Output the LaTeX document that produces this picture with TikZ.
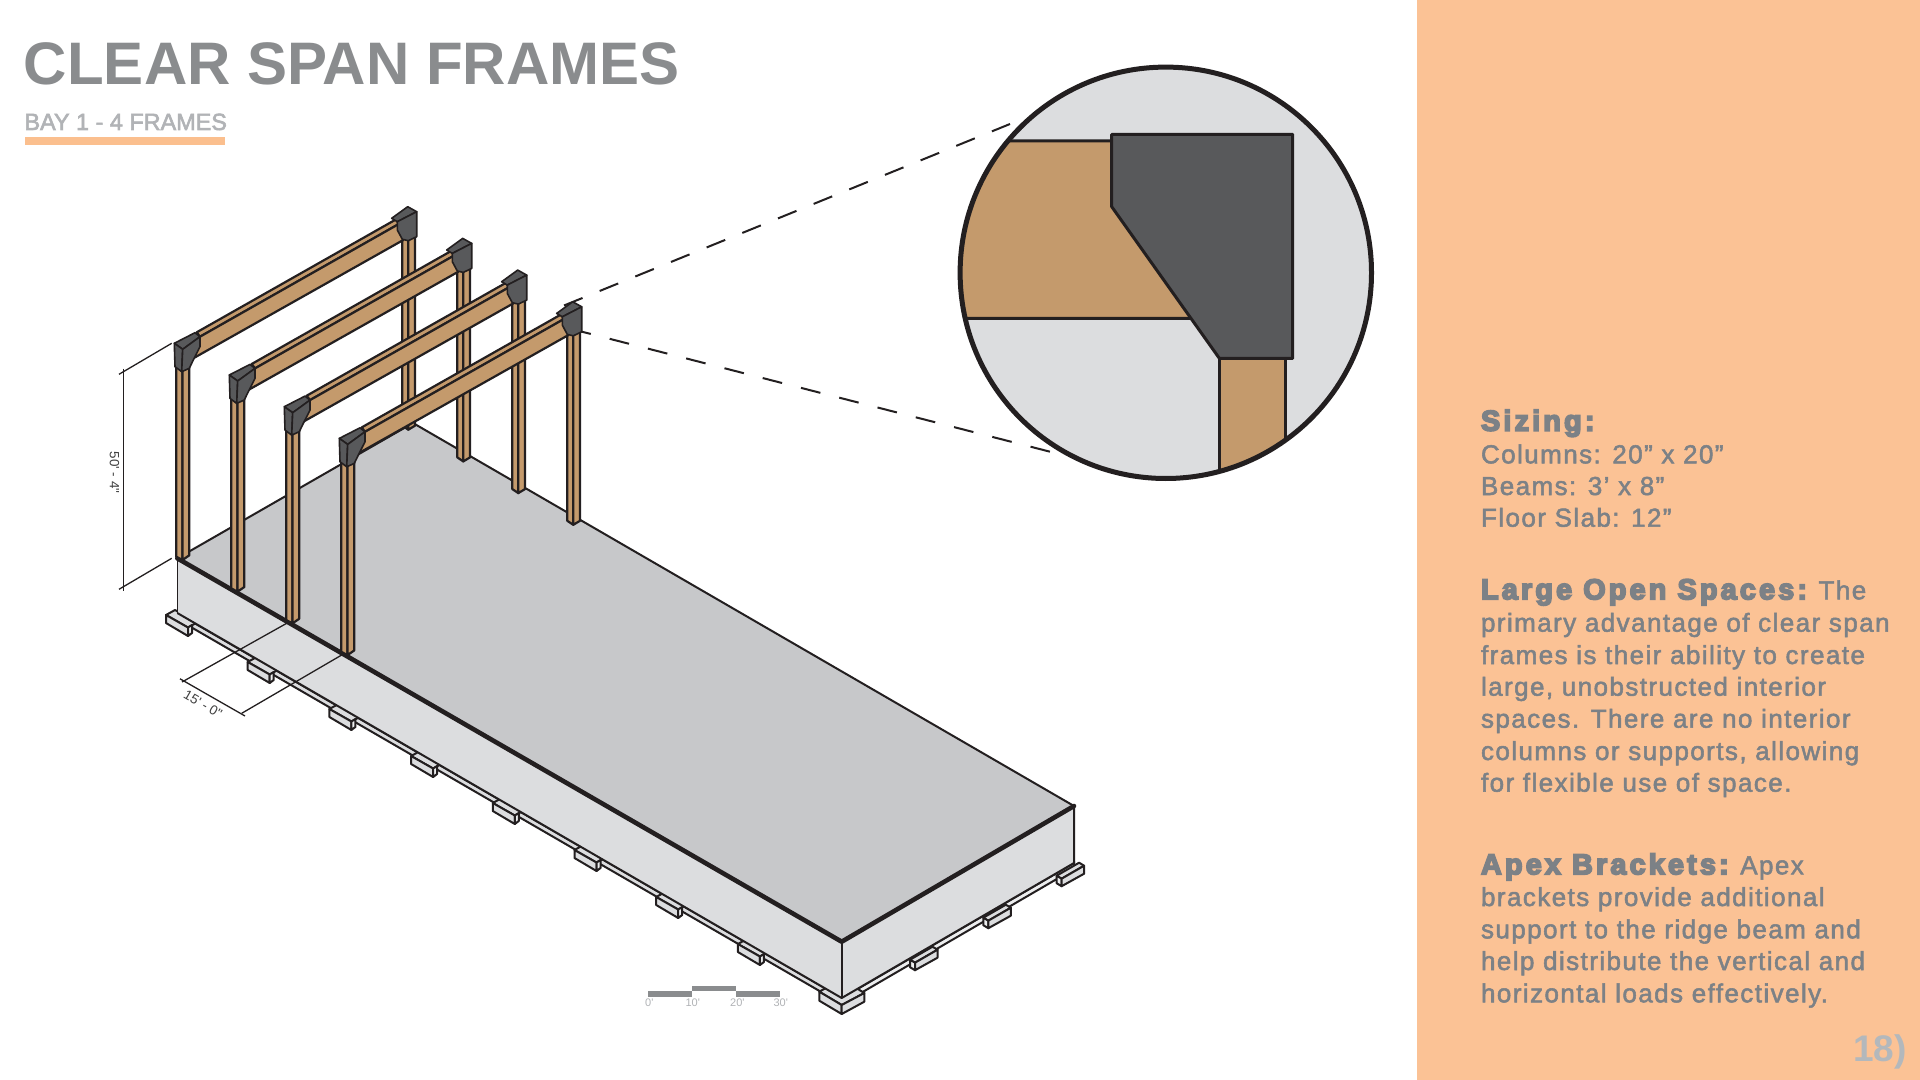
\documentclass[tikz,border=0pt]{standalone}
\usepackage{fontspec}
\setmainfont{Liberation Sans}
\newfontfamily\titlef{Liberation Sans Bold}
\newfontfamily\subf[FakeBold=2.5]{Liberation Sans}
\newfontfamily\dimf{Liberation Sans}
\newfontfamily\bodyf[LetterSpace=5.5,FakeBold=2]{Liberation Sans}
\newfontfamily\headf[LetterSpace=11,FakeBold=6]{Liberation Sans Bold}
\definecolor{ink}{HTML}{231F20}
\definecolor{panel}{HTML}{FBC295}
\definecolor{wood}{HTML}{C49A6C}
\definecolor{steel}{HTML}{58595B}
\definecolor{slabtop}{HTML}{C7C8CA}
\definecolor{slabside}{HTML}{DCDDDF}
\definecolor{padend}{HTML}{EDEEEF}
\definecolor{titlegrey}{HTML}{8A8C8E}
\definecolor{subgrey}{HTML}{B1B3B6}
\definecolor{bodygrey}{HTML}{7C8186}
\definecolor{pagegrey}{HTML}{B3B8BC}
\tikzset{
  txt/.style={inner sep=0pt,outer sep=0pt,anchor=base west,text=bodygrey},
  bodyline/.style={txt,font=\bodyf\fontsize{13}{13}\selectfont},
  woodface/.style={fill=wood,draw=ink,line width=1.1pt,line join=round},
  steelface/.style={fill=steel,draw=ink,line width=0.8pt,line join=round},
  padface/.style={fill=slabside,draw=ink,line width=1pt,line join=round},
  padendface/.style={fill=padend,draw=ink,line width=1pt,line join=round},
  dimline/.style={draw=ink,line width=0.65pt},
  dimtext/.style={inner sep=0pt,text=black!75,font=\dimf\fontsize{6.7}{6.7}\selectfont},
  scalebar/.style={fill=titlegrey,draw=none},
  scaletext/.style={inner sep=0pt,text=subgrey,font=\dimf\fontsize{5.5}{5.5}\selectfont},
  leader/.style={draw=ink,line width=1pt}
}
\newcommand{\headtext}[1]{{\headf\fontsize{14.4}{14.4}\selectfont #1}}
\begin{document}
\begin{tikzpicture}[x=0.5pt,y=-0.5pt]
\useasboundingbox (0,0) rectangle (1920,1080);
\fill[white] (0,0) rectangle (1920,1080);
\fill[panel] (1417,0) rectangle (1920,1080);

% title
\node[txt,text=titlegrey,font=\titlef\fontsize{30}{30}\selectfont] (title) at (24,85) {CLEAR SPAN FRAMES};
\node[txt,text=subgrey,font=\subf\fontsize{11.7}{11.7}\selectfont] (subtitle) at (24.5,130) {BAY 1 - 4 FRAMES};
\fill[panel!95!orange] (25,137) rectangle (224.5,145);

% footing strips
\fill[slabside,draw=ink,line width=1pt] (177,613) -- (842,998) -- (842,1004) -- (177,619) -- cycle;
\fill[padend,draw=ink,line width=1pt] (842,998) -- (1074,863) -- (1074,869) -- (842,1004) -- cycle;

% left-front footing pads
\foreach \i in {0,...,7}{
  \begin{scope}[shift={(166+81.7*\i,615+47*\i)}]
    \filldraw[padface] (0,0) -- (9,-5) -- (31,7.5) -- (22,12.5) -- cycle;
    \filldraw[padface] (0,0) -- (0,8) -- (22,21) -- (22,12.5) -- cycle;
    \filldraw[padendface] (22,12.5) -- (22,21) -- (26,18) -- (26,10) -- cycle;
  \end{scope}
}
% right footing pads
\foreach \k in {0,1,2}{
  \begin{scope}[shift={(915+73.3*\k,962.7-42*\k)}]
    \filldraw[padface] (0,0) -- (-5,-3) -- (17.5,-16) -- (22.5,-13) -- cycle;
    \filldraw[padendface] (0,0) -- (0,7.5) -- (-5,4.5) -- (-5,-3) -- cycle;
    \filldraw[padface] (0,0) -- (0,7.5) -- (22.5,-5) -- (22.5,-13) -- cycle;
  \end{scope}
}
% corner pad
\filldraw[padface] (819.3,991.7) -- (841.7,979) -- (864.3,993) -- (841.7,1005) -- cycle;
\filldraw[padface] (819.3,991.7) -- (819.3,1000.7) -- (841.7,1014) -- (841.7,1005) -- cycle;
\filldraw[padface] (841.7,1005) -- (841.7,1014) -- (864.3,1001.7) -- (864.3,993) -- cycle;

% slab
\coordinate (sa) at (177.3,558.3);
\coordinate (sf) at (841.7,941.7);
\coordinate (sr) at (1074,806);
\coordinate (sb) at (413,423);
\coordinate (la) at (177.3,613);
\coordinate (lf) at (841.7,998);
\coordinate (lr) at (1074,863);
\fill[slabside] (sa) -- (sf) -- (lf) -- (la) -- cycle;
\fill[slabside] (sf) -- (sr) -- (lr) -- (lf) -- cycle;
\fill[slabtop] (sa) -- (sb) -- (sr) -- (sf) -- cycle;
\draw[ink,line width=0.5pt] (sa) -- (la);
\draw[ink,line width=1pt,line join=round] (la) -- (lf) -- (lr) -- (sr);
\draw[ink,line width=1pt] (sf) -- (lf);
\draw[ink,line width=1pt] (sa) -- (sb) -- (sr);
\draw[ink,line width=2.3pt,line join=round,line cap=round] (sa) -- (sf) -- (sr);

% leaders to the detail circle
\coordinate (upA) at (564,305.5);
\coordinate (upB) at (1010,124);
\coordinate (loA) at (571.4,329);
\coordinate (loB) at (1050,451.7);
\draw[leader,dash pattern=on 10pt off 9.25pt] (upA) -- (upB);
\draw[leader,dash pattern=on 10pt off 9.75pt] (loA) -- (loB);

% the four frames
\foreach \n in {0,1,2,3}{
  \begin{scope}[shift={(55*\n,31.7*\n)}]
    % far column
    \filldraw[woodface] (402.3,235) -- (408.3,235) -- (408.3,429.7) -- (402.3,425.7) -- cycle;
    \filldraw[woodface] (408.3,235) -- (415,235) -- (415,425.7) -- (408.3,429.7) -- cycle;
    % beam
    \filldraw[woodface] (196.7,332.3) -- (396.7,219) -- (398.3,224.3) -- (200,336.7) -- cycle;
    \filldraw[woodface] (200,336.7) -- (398.3,224.3) -- (403.3,240) -- (193.3,358.3) -- cycle;
    % far bracket
    \filldraw[steelface] (391.7,218.3) -- (407.7,206.7) -- (416.7,211.7) -- (397.3,221.7) -- cycle;
    \filldraw[steelface] (397.3,221.7) -- (416.7,211.7) -- (416.7,236.7) -- (408.3,240.7) -- (402.3,239.3) -- (397.3,230) -- cycle;
    % near column
    \filldraw[woodface] (176.3,365) -- (182.5,365) -- (182.5,560) -- (176.3,556.7) -- cycle;
    \filldraw[woodface] (182.5,365) -- (189.3,365) -- (189.3,555.3) -- (182.5,560) -- cycle;
    % near bracket
    \filldraw[steelface] (174.3,343.3) -- (195,332.7) -- (200,336.7) -- (182.7,349.3) -- cycle;
    \filldraw[steelface] (174.3,343.3) -- (182.7,349.3) -- (181.7,371.7) -- (175,366.7) -- cycle;
    \filldraw[steelface] (182.7,349.3) -- (200,336.7) -- (200,346.7) -- (193.3,360) -- (189.3,368.3) -- (181.7,371.7) -- cycle;
  \end{scope}
}

% height dimension
\draw[dimline] (123.3,368.7) -- (123.3,591);
\draw[dimline] (119,374.3) -- (171.7,343.3);
\draw[dimline] (119,589.3) -- (171.7,558.3);
\node[dimtext,rotate=-90] (hdim) at (114.5,472.5) {50' - 4"};

% bay dimension
\draw[dimline] (180,678.8) -- (245,716);
\draw[dimline] (182,682) -- (286.7,623.3);
\draw[dimline] (241.7,713.3) -- (341.7,655);
\node[dimtext,rotate=-30] (bdim) at (203,704) {15' - 0"};

% scale bar
\fill[scalebar] (647.7,991.3) rectangle (691.7,997.3);
\fill[scalebar] (691.7,985.7) rectangle (736,991.3);
\fill[scalebar] (736,991.3) rectangle (780.3,997.3);
\node[scaletext,anchor=base] (s0) at (649.3,1006.7) {0'};
\node[scaletext,anchor=base] (s1) at (692.7,1006.7) {10'};
\node[scaletext,anchor=base] (s2) at (737.3,1006.7) {20'};
\node[scaletext,anchor=base] (s3) at (780.7,1006.7) {30'};

% detail circle
\fill[slabside] (1165.8,272.8) circle [radius=205.7];
\begin{scope}
  \clip (1165.8,272.8) circle [radius=205.7];
  \filldraw[fill=wood,draw=ink,line width=1.5pt,line join=round] (900,141) -- (1111.7,141) -- (1210,318.3) -- (900,318.3) -- cycle;
  \filldraw[fill=wood,draw=ink,line width=1.5pt,line join=round] (1219.3,350) -- (1285,350) -- (1285,520) -- (1219.3,520) -- cycle;
  \filldraw[fill=steel,draw=ink,line width=1.5pt,line join=round] (1111.7,134.3) -- (1292.7,134.3) -- (1292.7,358.3) -- (1219.3,358.3) -- (1111.7,206.7) -- cycle;
\end{scope}
\draw[ink,line width=2.5pt] (1165.8,272.8) circle [radius=205.7];

% side text
\node[txt] (l1) at (1481,430.7) {\headtext{Sizing:}};
\node[bodyline] (l2) at (1481,463.3) {Columns: 20” x 20”};
\node[bodyline] (l3) at (1481,495) {Beams: 3’ x 8”};
\node[bodyline] (l4) at (1481,526.7) {Floor Slab: 12”};
\node[bodyline] (l5) at (1481,599.3) {\headtext{Large Open Spaces:} The};
\node[bodyline] (l6) at (1481,631.7) {primary advantage of clear span};
\node[bodyline] (l7) at (1481,664) {frames is their ability to create};
\node[bodyline] (l8) at (1481,695.7) {large, unobstructed interior};
\node[bodyline] (l9) at (1481,727.7) {spaces. There are no interior};
\node[bodyline] (l10) at (1481,760) {columns or supports, allowing};
\node[bodyline] (l11) at (1481,791.7) {for flexible use of space.};
\node[bodyline] (l12) at (1481,874.3) {\headtext{Apex Brackets:} Apex};
\node[bodyline] (l13) at (1481,906) {brackets provide additional};
\node[bodyline] (l14) at (1481,938.3) {support to the ridge beam and};
\node[bodyline] (l15) at (1481,970) {help distribute the vertical and};
\node[bodyline] (l16) at (1481,1002.3) {horizontal loads effectively.};
\node[txt,text=pagegrey,font=\titlef\fontsize{18.5}{18.5}\selectfont] (pg) at (1853,1061.7) {18)};
\end{tikzpicture}
\end{document}
